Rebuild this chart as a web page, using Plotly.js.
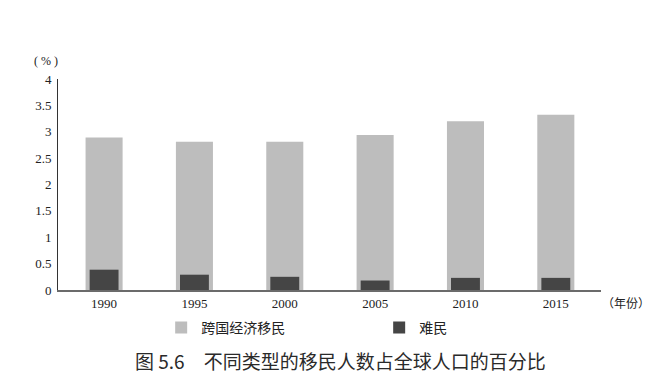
<!DOCTYPE html>
<html>
<head>
<meta charset="utf-8">
<script src="https://cdn.plot.ly/plotly-3.0.1.min.js"></script>
<style>html,body{margin:0;padding:0;background:#fff;}#chart{width:672px;height:384px;}</style>
</head>
<body>
<div id="chart"></div>
<script>
var years = ['1990', '1995', '2000', '2005', '2010', '2015'];
var economicMigrants = [2.89, 2.81, 2.81, 2.94, 3.20, 3.32];
var refugees = [0.385, 0.29, 0.25, 0.18, 0.23, 0.23];
var yTicks = [0, 0.5, 1, 1.5, 2, 2.5, 3, 3.5, 4];
var seriesNames = ['跨国经济移民', '难民'];

var serif = 'Liberation Serif, Times New Roman, serif';
var cjk = 'Noto Sans CJK SC, sans-serif';

var traces = [
  {
    type: 'bar', x: years, y: economicMigrants, name: seriesNames[0],
    width: 0.41, marker: {color: '#bdbdbd', line: {width: 0}}, hoverinfo: 'none'
  },
  {
    type: 'bar', x: years, y: refugees, name: seriesNames[1],
    width: 0.32, marker: {color: '#454545', line: {width: 0}}, hoverinfo: 'none'
  }
];

var layout = {
  width: 672, height: 384,
  margin: {l: 58, r: 71, t: 79, b: 94},
  paper_bgcolor: '#fff', plot_bgcolor: '#fff',
  barmode: 'overlay',
  showlegend: true,
  legend: {
    orientation: 'h', x: 0.19, xanchor: 'left', y: -0.18, yanchor: 'middle',
    entrywidth: 173, font: {family: cjk, size: 14, color: '#222'},
    traceorder: 'normal'
  },
  title: {
    text: '图 5.6　不同类型的移民人数占全球人口的百分比',
    x: 135 / 672, xanchor: 'left', xref: 'container',
    y: 1 - 362 / 384, yref: 'container', yanchor: 'middle',
    font: {family: cjk, size: 19, color: '#2a2a2a', weight: 400}
  },
  xaxis: {
    type: 'category', range: [-0.51, 5.5],
    showline: true, linecolor: '#6b6b6b', linewidth: 2,
    showgrid: false, zeroline: false, ticks: '',
    tickfont: {family: serif, size: 13, color: '#222'},
    fixedrange: true
  },
  yaxis: {
    range: [0, 4], tickvals: yTicks,
    ticktext: yTicks.map(String),
    showline: true, linecolor: '#333', linewidth: 1,
    showgrid: false, zeroline: false,
    ticks: 'outside', ticklen: 3, tickcolor: 'rgba(0,0,0,0)',
    tickfont: {family: serif, size: 13, color: '#222'},
    fixedrange: true
  },
  annotations: [
    {text: '( % )', xref: 'paper', yref: 'paper', x: -0.022, y: 1.085,
     xanchor: 'center', yanchor: 'middle', showarrow: false,
     font: {family: serif, size: 12, color: '#222'}},
    {text: '（年份）', xref: 'paper', yref: 'paper', x: 1.046, y: -0.057,
     xanchor: 'center', yanchor: 'middle', showarrow: false,
     font: {family: cjk, size: 12, color: '#222'}}
  ]
};

Plotly.newPlot('chart', traces, layout, {staticPlot: true, displayModeBar: false});
</script>
</body>
</html>
